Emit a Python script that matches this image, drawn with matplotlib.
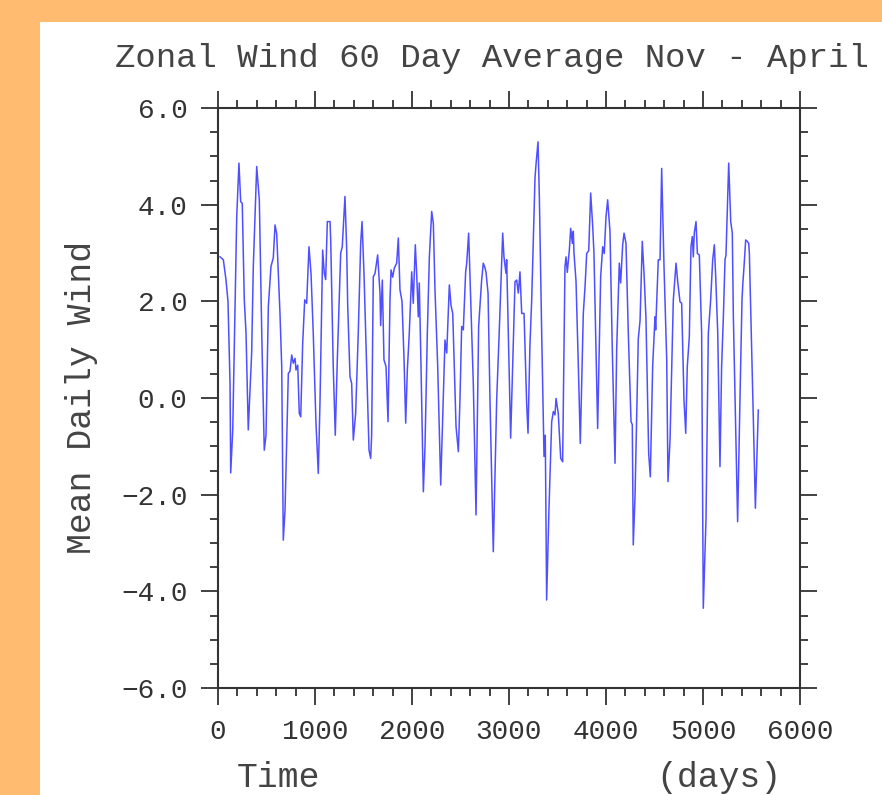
import matplotlib
matplotlib.use("Agg")
import matplotlib.pyplot as plt
from matplotlib.patches import Rectangle
from matplotlib.ticker import MultipleLocator, FuncFormatter

# values (days, m/s)
days = [21, 55, 82, 103, 124, 131, 152, 193, 216, 234, 250, 271, 289, 312, 347, 364, 399, 426, 451, 477,
        495, 519, 546, 570, 588, 605, 639, 657, 673, 691, 725, 742, 760, 776, 794, 804, 822, 838, 853, 873,
        894, 914, 938, 959, 982, 1010, 1034, 1052, 1079, 1096, 1110, 1127, 1155, 1162, 1188, 1209, 1230, 1265,
        1281, 1309, 1327, 1337, 1361, 1378, 1395, 1419, 1446, 1471, 1485, 1505, 1533, 1557, 1574, 1584, 1601,
        1619, 1646, 1670, 1677, 1694, 1711, 1732, 1753, 1773, 1784, 1801, 1818, 1842, 1859, 1876, 1897, 1918,
        1935, 1952, 1972, 1997, 2013, 2034, 2048, 2065, 2075, 2093, 2117, 2134, 2158, 2179, 2203, 2220, 2237,
        2265, 2296, 2316, 2340, 2358, 2385, 2402, 2420, 2436, 2454, 2478, 2495, 2512, 2529, 2553, 2564, 2584,
        2605, 2632, 2660, 2687, 2718, 2735, 2753, 2763, 2784, 2804, 2838, 2873, 2900, 2935, 2948, 2969, 2976,
        2993, 3017, 3038, 3062, 3079, 3096, 3113, 3131, 3155, 3182, 3196, 3216, 3234, 3268, 3278, 3299, 3313,
        3337, 3361, 3374, 3388, 3412, 3440, 3457, 3474, 3485, 3508, 3533, 3553, 3577, 3588, 3601, 3622, 3636,
        3653, 3663, 3670, 3691, 3715, 3735, 3766, 3784, 3801, 3822, 3842, 3863, 3876, 3914, 3945, 3966, 3982,
        4000, 4017, 4041, 4065, 4093, 4110, 4137, 4151, 4172, 4186, 4206, 4230, 4258, 4271, 4281, 4299, 4333,
        4351, 4374, 4392, 4412, 4440, 4457, 4481, 4505, 4512, 4539, 4557, 4574, 4598, 4626, 4639, 4660, 4694,
        4722, 4739, 4763, 4780, 4804, 4822, 4838, 4859, 4876, 4890, 4900, 4910, 4928, 4942, 4962, 4986, 5003,
        5031, 5055, 5079, 5100, 5117, 5131, 5152, 5175, 5192, 5210, 5227, 5237, 5265, 5286, 5302, 5313, 5334,
        5357, 5381, 5402, 5412, 5423, 5440, 5457, 5471, 5478, 5502, 5519, 5540, 5570]
wind = [2.92, 2.86, 2.45, 2.0, 0.3, -1.55, -0.66, 3.75, 4.86, 4.06, 4.03, 2.03, 1.34, -0.66, 0.93, 2.72, 4.79,
        4.1, 1.34, -1.08, -0.77, 1.89, 2.72, 2.9, 3.58, 3.4, 1.75, 0.65, -2.94, -2.32, 0.51, 0.55, 0.89, 0.72,
        0.82, 0.58, 0.68, -0.32, -0.39, 1.13, 2.03, 1.96, 3.13, 2.58, 1.34, -0.52, -1.56, -0.04, 3.06, 2.58,
        2.45, 3.65, 3.65, 3.27, 0.65, -0.77, 0.79, 3.0, 3.13, 4.17, 3.06, 1.92, 0.44, 0.3, -0.87, -0.32, 1.34,
        3.2, 3.65, 2.58, 0.65, -1.08, -1.25, -0.77, 2.51, 2.58, 2.96, 2.17, 1.5, 2.44, 0.79, 0.65, -0.49, 2.03,
        2.65, 2.5, 2.69, 2.79, 3.31, 2.24, 2.0, 0.8, -0.52, 0.58, 1.34, 2.61, 1.96, 3.17, 2.58, 1.68, 2.38,
        0.65, -1.94, -1.01, 1.34, 2.92, 3.86, 3.61, 2.24, 0.65, -1.8, -0.46, 1.2, 0.93, 2.34, 1.92, 1.75, 0.65,
        -0.59, -1.11, 0.0, 1.48, 1.41, 2.61, 2.79, 3.41, 2.03, 0.3, -2.42, 1.48, 2.44, 2.79, 2.69, 2.6, 2.17,
        -0.04, -3.18, -0.04, 1.41, 3.41, 2.92, 2.58, 2.86, 1.34, -0.83, 0.65, 2.41, 2.44, 2.17, 2.61, 1.75,
        1.75, -0.11, -0.73, 1.1, 2.03, 4.55, 4.82, 5.3, 4.15, 1.34, -1.21, -0.77, -4.18, -2.3, -0.49, -0.28,
        -0.35, -0.01, -0.32, -1.25, -1.32, 2.72, 2.92, 2.6, 3.06, 3.51, 3.2, 3.45, 3.0, 2.41, 0.65, -0.94, 1.75,
        2.31, 2.99, 3.05, 4.24, 3.55, 2.99, -0.63, 2.51, 3.13, 2.99, 3.75, 4.1, 3.45, 0.99, -1.35, 1.0, 2.79,
        2.38, 3.17, 3.41, 3.2, 1.34, -0.49, -0.55, -3.04, -2.05, 1.23, 1.6, 3.24, 2.58, 1.65, -1.15, -1.63,
        0.65, 1.68, 1.41, 2.86, 2.86, 4.75, 2.72, 0.79, -1.73, -0.87, 2.03, 2.79, 2.41, 1.99, 1.96, -0.04,
        -0.73, 0.65, 1.27, 3.13, 3.34, 2.92, 3.41, 3.65, 2.99, 2.96, 1.34, -4.35, -2.5, 1.34, 2.03, 2.86, 3.17,
        2.51, 1.34, -1.42, 0.65, 1.68, 2.86, 2.96, 4.86, 3.65, 3.41, 1.68, -0.33, -2.56, -0.04, 2.03, 2.41,
        2.72, 3.27, 3.24, 3.2, 2.99, 0.99, -0.44, -2.28, -0.25]

title = "Zonal Wind 60 Day Average Nov - April"
xlabel_left = "Time"
xlabel_right = "(days)"
ylabel = "Mean Daily Wind"

W, H = 882, 795
fig = plt.figure(figsize=(W / 100, H / 100), dpi=100, facecolor="#ffbb70")
# white panel behind everything
fig.add_artist(Rectangle((40 / W, 0), 1 - 40 / W, 1 - 22 / H, transform=fig.transFigure,
                         facecolor="white", edgecolor="none", zorder=-10))

ax = fig.add_axes([218 / W, 1 - 688 / H, (800 - 218) / W, (688 - 108) / H])
ax.set_zorder(1)
ax.plot(days, wind, color="#4f4fff", lw=1.1)

ax.set_xlim(0, 6000)
ax.set_ylim(-6, 6)
ax.xaxis.set_major_locator(MultipleLocator(1000))
ax.xaxis.set_minor_locator(MultipleLocator(200))
ax.yaxis.set_major_locator(MultipleLocator(2))
ax.yaxis.set_minor_locator(MultipleLocator(0.5))
ax.yaxis.set_major_formatter(FuncFormatter(lambda v, p: f"{v:.1f}".replace("-", "\u2212")))
ax.xaxis.set_major_formatter(FuncFormatter(lambda v, p: f"{v:.0f}"))

font = "Liberation Mono"
ax.tick_params(which="both", direction="out", top=True, right=True, color="#333333", width=1.3)
ax.tick_params(which="major", length=12, labelsize=20, pad=10, labelcolor="#333333")
ax.tick_params(which="minor", length=6)
for lab in ax.get_xticklabels() + ax.get_yticklabels():
    lab.set_fontfamily(font)
for s in ax.spines.values():
    s.set_linewidth(1.5)
    s.set_color("#333333")

fig.text(115 / W, 1 - 67 / H, title, fontsize=24.5, family=font, color="#444444", va="baseline")
fig.text(237 / W, 1 - 787 / H, xlabel_left, fontsize=25, family=font, color="#444444", va="baseline")
fig.text(782 / W, 1 - 787 / H, xlabel_right, fontsize=25, family=font, color="#444444", va="baseline",
         ha="right")
fig.text(82 / W, 1 - 397 / H, ylabel, fontsize=25, family=font, color="#444444", rotation=90,
         ha="center", va="center")

fig.savefig("out.png", dpi=100, facecolor=fig.get_facecolor())
